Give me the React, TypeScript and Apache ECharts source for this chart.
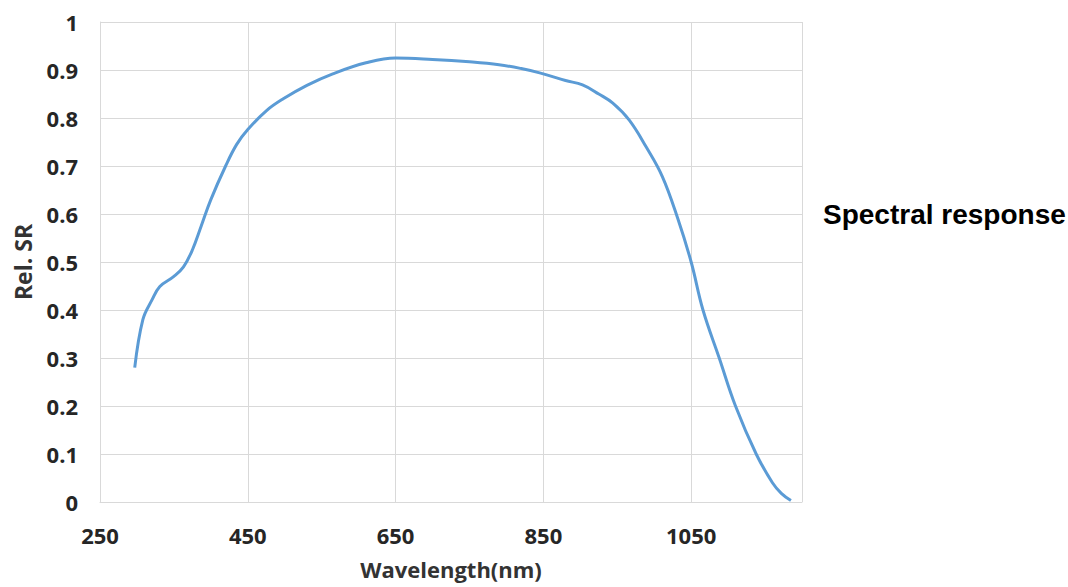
import React, { useEffect, useRef } from "react";
import * as echarts from "echarts";

const wavelengths = [297, 308, 320, 331, 350, 363, 375, 387, 400, 420, 435, 450, 475, 498, 530, 565, 610, 650, 700, 750, 790, 820, 845, 880, 903, 925, 944, 966, 989, 1011, 1032, 1050, 1066, 1088, 1110, 1138, 1160, 1172, 1185];
const relSR = [0.28, 0.38, 0.42, 0.449, 0.47, 0.49, 0.525, 0.575, 0.63, 0.7, 0.745, 0.776, 0.815, 0.84, 0.868, 0.892, 0.915, 0.925, 0.922, 0.917, 0.911, 0.903, 0.894, 0.878, 0.869, 0.85, 0.831, 0.796, 0.74, 0.678, 0.59, 0.5, 0.4, 0.3, 0.2, 0.1, 0.04, 0.018, 0.003];

const xTitle = "Wavelength(nm)";
const yTitle = "Rel. SR";
const sideLabel = "Spectral response";

export default function App() {
  const ref = useRef<HTMLDivElement>(null);
  useEffect(() => {
    if (!ref.current) return;
    const chart = echarts.init(ref.current, null, { renderer: "svg" });
    const fontFamily = "'Open Sans', sans-serif";
    chart.setOption({
      animation: false,
      backgroundColor: "#ffffff",
      grid: { left: 100, right: 266, top: 22, bottom: 85, containLabel: false, outerBoundsMode: "none" },
      xAxis: {
        type: "value",
        min: 250,
        max: 1200,
        interval: 200,
        name: xTitle,
        nameLocation: "middle",
        nameGap: 56,
        nameTextStyle: { fontFamily, fontWeight: "bold", fontSize: 22, color: "#333333" },
        axisLine: { show: true, lineStyle: { color: "#d9d9d9", width: 1 } },
        axisTick: { show: false },
        axisLabel: {
          showMaxLabel: false,
          margin: 22,
          fontFamily,
          fontWeight: "bold",
          fontSize: 22,
          color: "#262626",
          formatter: (v: number) => String(v),
        },
        splitLine: { show: true, lineStyle: { color: "#d9d9d9", width: 1 } },
      },
      yAxis: {
        type: "value",
        min: 0,
        max: 1,
        interval: 0.1,
        name: yTitle,
        nameLocation: "middle",
        nameGap: 66,
        nameTextStyle: { fontFamily, fontWeight: "bold", fontSize: 23, color: "#333333" },
        axisLine: { show: true, lineStyle: { color: "#d9d9d9", width: 1 } },
        axisTick: { show: false },
        axisLabel: {
          margin: 22,
          fontFamily,
          fontWeight: "bold",
          fontSize: 22,
          color: "#262626",
          formatter: (v: number) => String(Math.round(v * 10) / 10),
        },
        splitLine: { show: true, lineStyle: { color: "#d9d9d9", width: 1 } },
      },
      graphic: [
        {
          type: "text",
          left: 823,
          top: 200,
          style: {
            text: sideLabel,
            font: "bold 28px 'Liberation Sans', Arial, sans-serif",
            fill: "#000000",
          },
        },
      ],
      series: [
        {
          type: "line",
          data: wavelengths.map((w, i) => [w, relSR[i]]),
          smooth: 0.4,
          showSymbol: false,
          lineStyle: { color: "#5b9bd5", width: 3 },
        },
      ],
    });
    return () => chart.dispose();
  }, []);
  return <div ref={ref} style={{ position: "fixed", left: 0, top: 0, width: 1068, height: 587 }} />;
}
